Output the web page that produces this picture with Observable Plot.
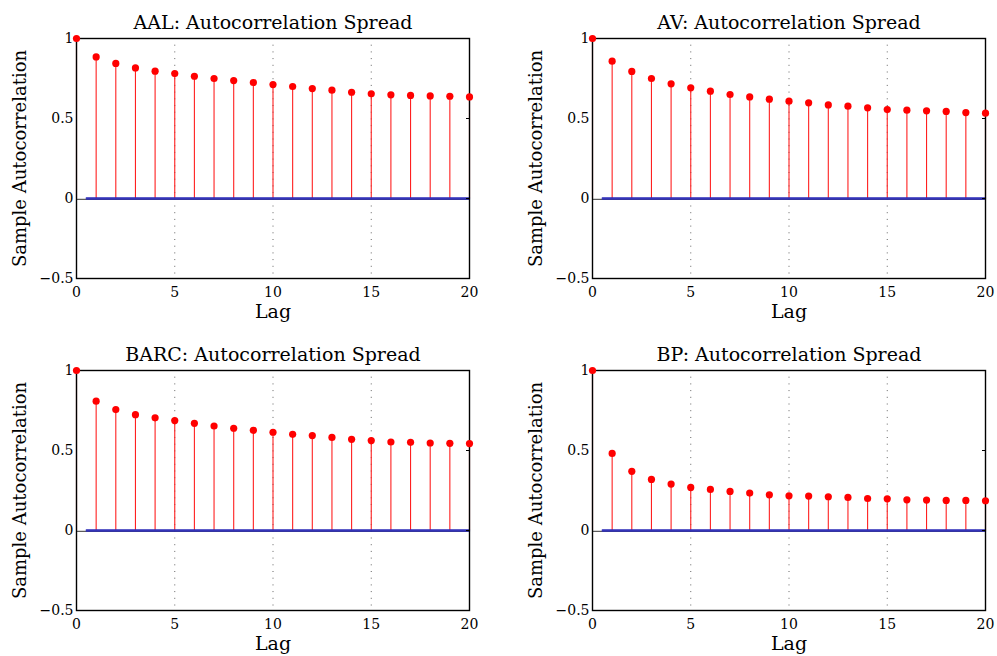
<!DOCTYPE html>
<html><head>
<meta charset="utf-8">
<script src="https://cdn.jsdelivr.net/npm/d3@7"></script>
<script src="https://cdn.jsdelivr.net/npm/@observablehq/plot@0.6"></script>
<style>
html,body{margin:0;padding:0;background:#fff}
#c{position:relative;width:997px;height:656px;overflow:hidden}
.p{position:absolute}
</style></head><body>
<div id="c"></div>
<script>
const lags = [0,1,2,3,4,5,6,7,8,9,10,11,12,13,14,15,16,17,18,19,20];
const aal  = [1,0.885,0.844,0.816,0.796,0.781,0.764,0.750,0.737,0.725,0.712,0.700,0.687,0.677,0.664,0.654,0.648,0.644,0.641,0.639,0.635];
const av   = [1,0.858,0.794,0.750,0.717,0.692,0.671,0.650,0.635,0.621,0.608,0.598,0.585,0.577,0.567,0.556,0.552,0.548,0.544,0.537,0.533];
const barc = [1,0.808,0.756,0.724,0.704,0.687,0.670,0.653,0.639,0.626,0.614,0.601,0.593,0.582,0.570,0.562,0.553,0.551,0.547,0.545,0.543];
const bp   = [1,0.482,0.370,0.319,0.290,0.269,0.257,0.244,0.234,0.223,0.217,0.215,0.211,0.207,0.200,0.198,0.192,0.190,0.188,0.188,0.186];
const names = ["AAL","AV","BARC","BP"];
const series = [aal, av, barc, bp];
const xTicks = [0,5,10,15,20];
const xGrid = [5,10,15];
const yTicks = [-0.5,0,0.5,1];
const confLags = [0.5,20];
const confBound = [0.003,0.003];
const titleSuffix = ": Autocorrelation Spread";
const xLabel = "Lag";
const yLabel = "Sample Autocorrelation";

const font = "DejaVu Serif";
function panel(name, values){
  const data = lags.map((l,i)=>({lag:l, acf:values[i]}));
  const conf = confLags.map((l,i)=>({lag:l, b:confBound[i], s:"u"})).concat(confLags.map((l,i)=>({lag:l,b:-confBound[i],s:"l"})));
  return Plot.plot({
    width:481, height:324, marginLeft:76, marginRight:12, marginTop:38, marginBottom:46,
    style:{fontFamily:font, fontSize:"13px", color:"black", background:"white", overflow:"visible"},
    x:{domain:[0,20]},
    y:{domain:[-0.5,1]},
    marks:[
      Plot.gridX(xGrid, {stroke:"#666", strokeOpacity:1, strokeWidth:1, strokeDasharray:"1,5.7"}),
      Plot.ruleY([0], {stroke:"#333", strokeWidth:1, dy:0.8}),
      Plot.ruleX(data, {x:"lag", y1:0, y2:"acf", stroke:"#ff2020", strokeWidth:1.1}),
      Plot.line(conf, {x:"lag", y:"b", z:"s", stroke:"#2a2ab8", strokeWidth:1.3}),
      Plot.frame({stroke:"black", strokeWidth:1.4}),
      Plot.axisX(xTicks, {anchor:"bottom", tickSize:0, tickPadding:9, label:null, fontSize:14}),
      Plot.axisY(yTicks, {anchor:"left", tickSize:0, tickPadding:3, label:null, fontSize:14, tickFormat:d=>d===-0.5?"\u22120.5":String(d)}),
      Plot.axisY(yTicks, {anchor:"right", tickSize:-4, label:null, tickFormat:()=>""}),
      Plot.dot(data, {x:"lag", y:"acf", r:3.6, fill:"#ff0000", stroke:"none"}),
      Plot.text([name+titleSuffix], {frameAnchor:"top", dy:-10, lineAnchor:"bottom", fontSize:19, fill:"black"}),
      Plot.text([xLabel], {frameAnchor:"bottom", dy:39, lineAnchor:"bottom", fontSize:19, fill:"black"}),
      Plot.text([yLabel], {frameAnchor:"left", dx:-56, rotate:-90, textAnchor:"middle", lineAnchor:"middle", fontSize:18, fill:"black"})
    ]
  });
}
const pos = [[0,0],[516,0],[0,332],[516,332]];
const c = document.getElementById("c");
names.forEach((n,i)=>{
  const el = panel(n, series[i]);
  el.classList.add("p");
  el.style.left = pos[i][0]+"px";
  el.style.top = pos[i][1]+"px";
  c.appendChild(el);
});
</script>
</body></html>
